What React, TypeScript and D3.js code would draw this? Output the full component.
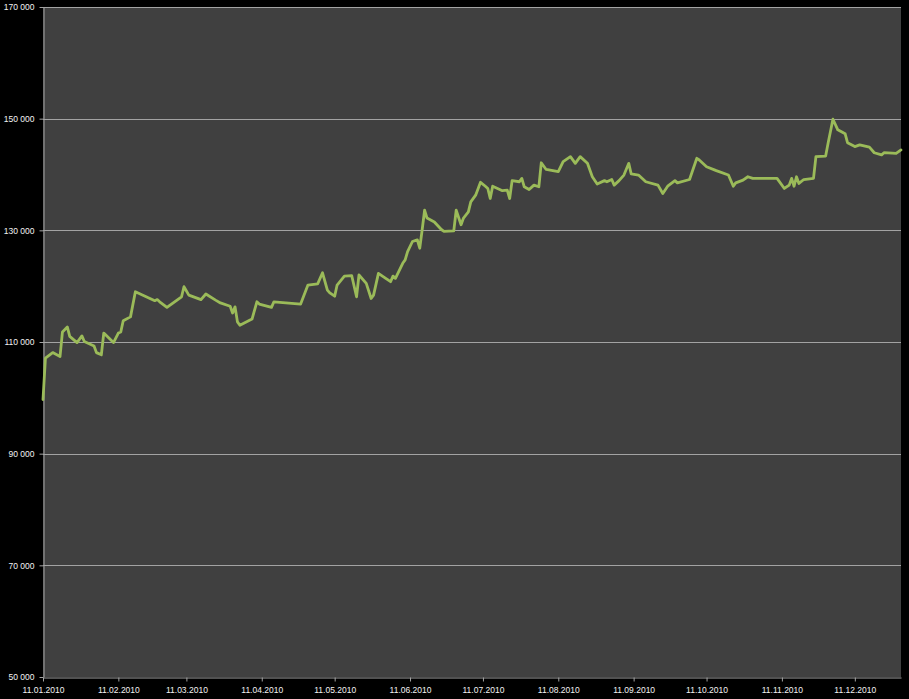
import React, { useRef, useEffect } from "react";
import * as d3 from "d3";

// trading dates (dd.mm, year 2010) and index values
const dates = [
  "11.01", "12.01", "15.01", "18.01", "19.01", "21.01", "22.01", "25.01", "27.01", "28.01",
  "01.02", "02.02", "04.02", "05.02", "09.02", "11.02", "12.02", "13.02", "16.02", "18.02",
  "26.02", "27.02", "28.02", "03.03", "09.03", "10.03", "12.03", "17.03", "19.03", "23.03",
  "25.03", "29.03", "30.03", "31.03", "01.04", "02.04", "07.04", "09.04", "10.04", "15.04",
  "16.04", "27.04", "30.04", "04.05", "06.05", "08.05", "09.05", "11.05", "12.05", "15.05",
  "18.05", "20.05", "21.05", "24.05", "26.05", "27.05", "29.05", "01.06", "03.06", "04.06",
  "05.06", "08.06", "09.06", "10.06", "12.06", "14.06", "15.06", "16.06", "17.06", "18.06",
  "21.06", "24.06", "25.06", "29.06", "30.06", "02.07", "03.07", "05.07", "06.07", "08.07",
  "10.07", "12.07", "13.07", "14.07", "15.07", "19.07", "21.07", "22.07", "23.07", "26.07",
  "27.07", "28.07", "30.07", "01.08", "03.08", "04.08", "06.08", "11.08", "13.08", "16.08",
  "18.08", "20.08", "23.08", "25.08", "27.08", "30.08", "31.08", "02.09", "03.09", "05.09",
  "07.09", "09.09", "10.09", "13.09", "16.09", "21.09", "23.09", "25.09", "28.09", "29.09",
  "04.10", "07.10", "08.10", "11.10", "15.10", "20.10", "22.10", "23.10", "26.10", "28.10",
  "30.10", "09.11", "12.11", "14.11", "15.11", "16.11", "17.11", "18.11", "20.11", "24.11",
  "25.11", "29.11", "30.11", "02.12", "04.12", "07.12", "08.12", "11.12", "13.12", "17.12",
  "19.12", "22.12", "23.12", "28.12", "30.12",
];

const values = [
  99700, 107100, 108100, 107400, 111800, 112700, 111000, 109900, 111100, 110100,
  109300, 108100, 107700, 111600, 109900, 111600, 111800, 113800, 114500, 119000,
  117400, 117600, 117200, 116200, 118100, 119900, 118400, 117600, 118600, 117500,
  117000, 116400, 115200, 116300, 113600, 113000, 114100, 117200, 116800, 116200,
  117200, 116800, 120200, 120400, 122400, 119300, 118800, 118200, 120200, 121800,
  121900, 118100, 122000, 120500, 117800, 118400, 122300, 121400, 120800, 121800,
  121400, 124100, 124700, 126200, 128000, 128300, 126800, 130100, 133600, 132200,
  131500, 130100, 129800, 129900, 133600, 131000, 132200, 133300, 135100, 136300,
  138600, 137900, 137500, 135700, 137900, 137100, 137200, 135700, 138900, 138700,
  139300, 137800, 137300, 138100, 137800, 142100, 140900, 140500, 142300, 143200,
  142000, 143200, 142000, 139600, 138300, 138900, 138700, 139100, 138100, 138900,
  139900, 142000, 140100, 139900, 138700, 138100, 136600, 137900, 138900, 138500,
  139100, 142900, 142600, 141400, 140700, 139900, 137900, 138500, 139000, 139600,
  139300, 139300, 137500, 138100, 139300, 137900, 139600, 138400, 139100, 139300,
  143200, 143300, 145600, 149900, 148000, 147300, 145700, 145000, 145300, 144900,
  143900, 143500, 143900, 143800, 144400,
];

const xTicks = [
  "11.01.2010", "11.02.2010", "11.03.2010", "11.04.2010", "11.05.2010", "11.06.2010",
  "11.07.2010", "11.08.2010", "11.09.2010", "11.10.2010", "11.11.2010", "11.12.2010",
];
const yTicks = [50000, 70000, 90000, 110000, 130000, 150000, 170000];

const App = () => {
  const chartRef = useRef(null);

  useEffect(() => {
    const width = 909;
    const height = 699;
    const margin = { top: 7, right: 8, bottom: 22, left: 43 };

    const parse = d3.timeParse("%d.%m.%Y");
    const data = dates.map((d, i) => ({ date: parse(d + ".2010"), value: values[i] }));

    d3.select(chartRef.current).select("svg").remove();

    const svg = d3
      .select(chartRef.current)
      .append("svg")
      .attr("width", width)
      .attr("height", height)
      .style("display", "block")
      .style("background", "#000");

    const x = d3
      .scaleTime()
      .domain([parse("11.01.2010"), parse("30.12.2010")])
      .range([margin.left, width - margin.right]);

    const y = d3
      .scaleLinear()
      .domain([50000, 170000])
      .range([height - margin.bottom, margin.top]);

    const fmt = (v) => d3.format(",")(v).replace(/,/g, " ");

    // plot area
    svg
      .append("rect")
      .attr("x", margin.left)
      .attr("y", margin.top)
      .attr("width", width - margin.right - margin.left)
      .attr("height", height - margin.bottom - margin.top)
      .attr("fill", "#404040");

    // gridlines
    svg
      .append("g")
      .attr("stroke", "#a3a3a3")
      .attr("stroke-width", 1)
      .selectAll("line")
      .data(yTicks.slice(1))
      .join("line")
      .attr("x1", margin.left)
      .attr("x2", width - margin.right)
      .attr("y1", (d) => Math.round(y(d)) + 0.5)
      .attr("y2", (d) => Math.round(y(d)) + 0.5);

    // y axis
    const yAxis = svg
      .append("g")
      .attr("transform", `translate(${margin.left + 0.5},0)`)
      .call(
        d3
          .axisLeft(y)
          .tickValues(yTicks)
          .tickSize(4)
          .tickSizeOuter(0)
          .tickPadding(5)
          .tickFormat(fmt)
      );
    yAxis.select(".domain").attr("stroke", "#a3a3a3");
    yAxis.selectAll(".tick line").attr("stroke", "#a3a3a3");
    yAxis
      .selectAll("text")
      .attr("fill", "#f2f2f2")
      .attr("font-family", "'Liberation Sans', Arial, sans-serif")
      .attr("font-size", "8.5px");

    // x axis
    const xAxis = svg
      .append("g")
      .attr("transform", `translate(0,${height - margin.bottom + 0.5})`)
      .call(
        d3
          .axisBottom(x)
          .tickValues(xTicks.map(parse))
          .tickSize(4)
          .tickSizeOuter(0)
          .tickPadding(5)
          .tickFormat(d3.timeFormat("%d.%m.%Y"))
      );
    xAxis.select(".domain").attr("stroke", "#a3a3a3");
    xAxis.selectAll(".tick line").attr("stroke", "#a3a3a3");
    xAxis
      .selectAll("text")
      .attr("fill", "#f2f2f2")
      .attr("font-family", "'Liberation Sans', Arial, sans-serif")
      .attr("font-size", "8.5px");

    // series
    const line = d3
      .line()
      .x((d) => x(d.date))
      .y((d) => y(d.value));

    svg
      .append("path")
      .datum(data)
      .attr("fill", "none")
      .attr("stroke", "#9bbb59")
      .attr("stroke-width", 2.8)
      .attr("stroke-linejoin", "round")
      .attr("stroke-linecap", "round")
      .attr("d", line);
  }, []);

  return (
    <div style={{ position: "fixed", left: 0, top: 0, width: 909, height: 699, background: "#000" }}>
      <div ref={chartRef}></div>
    </div>
  );
};

export default App;
